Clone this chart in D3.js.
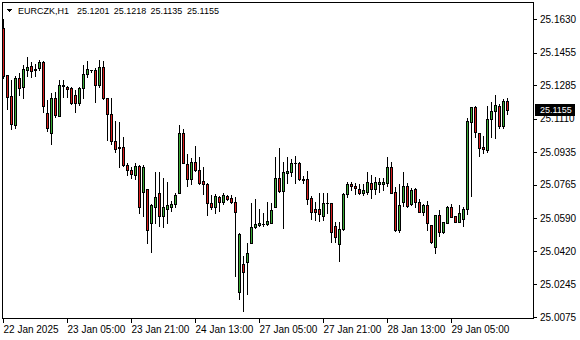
<!DOCTYPE html>
<html>
<head>
<meta charset="utf-8">
<script src="https://cdn.jsdelivr.net/npm/d3@7"></script>
<style>
  body { margin: 0; background: #fff; }
  svg { display: block; font-family: "Liberation Sans", Arial, sans-serif; font-size: 9px; }
</style>
</head>
<body>
<div class="canvas"></div>
<script>
var width = 580, height = 340;

// EURCZK H1, from 22 Jan 2025 13:00, one bar per hour (weekend skipped)
var open = [25.1583,25.1338,25.1228,25.1077,25.1322,25.1275,25.1364,25.1385,25.1369,25.1374,
  25.1406,25.1140,25.1035,25.1218,25.1124,25.1280,25.1275,25.1270,25.1233,25.1192,
  25.1270,25.1343,25.1364,25.1364,25.1286,25.1380,25.1218,25.1134,25.0993,25.0962,
  25.0962,25.0868,25.0842,25.0816,25.0863,25.0727,25.0743,25.0566,25.0649,25.0722,
  25.0602,25.0639,25.0649,25.0665,25.0722,25.1035,25.0873,25.0795,25.0884,25.0842,
  25.0785,25.0769,25.0670,25.0649,25.0701,25.0675,25.0706,25.0696,25.0675,25.0205,
  25.0352,25.0362,25.0461,25.0545,25.0555,25.0560,25.0560,25.0566,25.0649,25.0800,
  25.0732,25.0826,25.0832,25.0879,25.0879,25.0795,25.0795,25.0696,25.0639,25.0639,
  25.0602,25.0670,25.0670,25.0550,25.0456,25.0534,25.0717,25.0769,25.0759,25.0743,
  25.0722,25.0727,25.0774,25.0743,25.0769,25.0769,25.0774,25.0858,25.0727,25.0529,
  25.0675,25.0759,25.0665,25.0743,25.0675,25.0623,25.0659,25.0555,25.0440,25.0607,
  25.0519,25.0566,25.0649,25.0602,25.0571,25.0586,25.0639,25.1093,25.1171,25.1035,
  25.0962,25.0947,25.1108,25.1150,25.1176,25.1072,25.1201];
var high = [25.1630,25.1338,25.1312,25.1333,25.1348,25.1390,25.1432,25.1406,25.1395,25.1416,
  25.1411,25.1207,25.1244,25.1249,25.1312,25.1312,25.1280,25.1275,25.1259,25.1275,
  25.1390,25.1411,25.1364,25.1374,25.1416,25.1411,25.1218,25.1218,25.1098,25.1093,
  25.1014,25.0879,25.0858,25.0879,25.0868,25.0868,25.0743,25.0665,25.0832,25.0832,
  25.0800,25.0779,25.0680,25.0722,25.1077,25.1056,25.0926,25.0905,25.0967,25.0910,
  25.0858,25.0774,25.0712,25.0717,25.0706,25.0722,25.0712,25.0712,25.0701,25.0513,
  25.0393,25.0461,25.0670,25.0691,25.0639,25.0618,25.0675,25.0670,25.0910,25.0957,
  25.0884,25.0910,25.0900,25.0915,25.0884,25.0811,25.0837,25.0706,25.0675,25.0722,
  25.0722,25.0722,25.0670,25.0571,25.0571,25.0722,25.0779,25.0779,25.0774,25.0769,
  25.0769,25.0832,25.0816,25.0806,25.0800,25.0800,25.0910,25.0884,25.0753,25.0769,
  25.0832,25.0774,25.0748,25.0748,25.0691,25.0665,25.0680,25.0555,25.0607,25.0633,
  25.0571,25.0654,25.0665,25.0602,25.0659,25.0649,25.1113,25.1171,25.1176,25.1035,
  25.1019,25.1176,25.1197,25.1233,25.1186,25.1213,25.1218];
var low = [25.1322,25.1160,25.1056,25.1061,25.1233,25.1218,25.1333,25.1327,25.1333,25.1364,
  25.1145,25.1046,25.0978,25.1119,25.1124,25.1223,25.1223,25.1186,25.1145,25.1181,
  25.1218,25.1327,25.1353,25.1197,25.1275,25.1213,25.0999,25.0978,25.0936,25.0858,
  25.0863,25.0816,25.0800,25.0795,25.0618,25.0602,25.0461,25.0414,25.0566,25.0550,
  25.0545,25.0566,25.0628,25.0649,25.0722,25.0879,25.0759,25.0769,25.0837,25.0769,
  25.0717,25.0607,25.0639,25.0618,25.0628,25.0665,25.0686,25.0670,25.0289,25.0169,
  25.0106,25.0195,25.0461,25.0539,25.0550,25.0550,25.0555,25.0566,25.0649,25.0727,
  25.0539,25.0774,25.0811,25.0774,25.0790,25.0774,25.0665,25.0586,25.0581,25.0576,
  25.0581,25.0618,25.0466,25.0466,25.0367,25.0529,25.0701,25.0738,25.0717,25.0717,
  25.0712,25.0717,25.0696,25.0717,25.0727,25.0738,25.0759,25.0722,25.0524,25.0519,
  25.0654,25.0649,25.0659,25.0649,25.0623,25.0607,25.0529,25.0461,25.0409,25.0498,
  25.0513,25.0566,25.0597,25.0571,25.0571,25.0550,25.0612,25.0706,25.1014,25.0915,
  25.0931,25.0936,25.1014,25.1009,25.1061,25.1061,25.1135];
var close = [25.1333,25.1223,25.1082,25.1322,25.1270,25.1369,25.1380,25.1359,25.1364,25.1406,
  25.1176,25.1061,25.1218,25.1129,25.1286,25.1286,25.1265,25.1192,25.1192,25.1270,
  25.1343,25.1369,25.1364,25.1286,25.1380,25.1218,25.1134,25.0993,25.0952,25.0957,
  25.0868,25.0842,25.0821,25.0863,25.0649,25.0858,25.0529,25.0659,25.0701,25.0602,
  25.0649,25.0659,25.0665,25.0712,25.1035,25.0879,25.0795,25.0884,25.0842,25.0774,
  25.0769,25.0670,25.0649,25.0706,25.0675,25.0712,25.0691,25.0675,25.0623,25.0508,
  25.0310,25.0409,25.0545,25.0560,25.0566,25.0562,25.0576,25.0633,25.0800,25.0732,
  25.0832,25.0837,25.0879,25.0879,25.0795,25.0790,25.0691,25.0623,25.0623,25.0612,
  25.0670,25.0670,25.0519,25.0493,25.0534,25.0717,25.0769,25.0759,25.0748,25.0722,
  25.0738,25.0779,25.0743,25.0779,25.0779,25.0779,25.0858,25.0722,25.0529,25.0659,
  25.0759,25.0654,25.0738,25.0675,25.0623,25.0659,25.0566,25.0466,25.0607,25.0519,
  25.0571,25.0649,25.0597,25.0571,25.0618,25.0639,25.1098,25.1171,25.1040,25.0957,
  25.0952,25.1108,25.1150,25.1181,25.1072,25.1202,25.1155];

var priceTicks = [25.1630,25.1455,25.1285,25.1110,25.0935,25.0765,25.0590,25.0420,25.0245,25.0075];
var timeTickBars = [0, 16, 32, 48, 64, 80, 96, 112];
var timeTickLabels = ["22 Jan 2025","23 Jan 05:00","23 Jan 21:00","24 Jan 13:00",
  "27 Jan 05:00","27 Jan 21:00","28 Jan 13:00","29 Jan 05:00"];
var symbol = "EURCZK,H1";

var bull = "#3aaa35", bear = "#d81e1e";
var fmt = d3.format(".4f");

var svg = d3.select(".canvas").append("svg")
    .attr("width", width)
    .attr("height", height)
    .attr("shape-rendering", "crispEdges");

var x = d3.scaleLinear().domain([0, open.length - 1]).range([3, 3 + 4 * (open.length - 1)]);
var y = d3.scaleLinear().domain([25.0075, 25.1630]).range([317, 19]);

// chart frame
svg.append("rect")
    .attr("x", 2.5).attr("y", 2.5)
    .attr("width", 531).attr("height", 316)
    .attr("fill", "none")
    .attr("stroke", "#000");

var bars = d3.range(open.length).map(function(i) {
  return {i: i, o: open[i], h: high[i], l: low[i], c: close[i]};
});

var candle = svg.append("g").selectAll("g").data(bars).enter().append("g");

function bodyTop(d) { return Math.round(y(Math.max(d.o, d.c))); }
function bodyBot(d) { return Math.round(y(Math.min(d.o, d.c))); }

// wick
candle.append("rect")
    .attr("x", function(d) { return x(d.i); })
    .attr("y", function(d) { return Math.round(y(d.h)); })
    .attr("width", 1)
    .attr("height", function(d) { return Math.round(y(d.l)) - Math.round(y(d.h)) + 1; })
    .attr("fill", "#000");

// body outline
candle.append("rect")
    .attr("x", function(d) { return x(d.i) - 1; })
    .attr("y", bodyTop)
    .attr("width", 3)
    .attr("height", function(d) { return bodyBot(d) - bodyTop(d) + 1; })
    .attr("fill", "#000");

// body fill
candle.filter(function(d) { return bodyBot(d) - bodyTop(d) > 1; })
  .append("rect")
    .attr("x", function(d) { return x(d.i); })
    .attr("y", function(d) { return bodyTop(d) + 1; })
    .attr("width", 1)
    .attr("height", function(d) { return bodyBot(d) - bodyTop(d) - 1; })
    .attr("fill", function(d) { return d.c > d.o ? bull : bear; });

// price axis
var yAxis = svg.append("g")
    .attr("transform", "translate(533,0)")
    .call(d3.axisRight(y).tickValues(priceTicks).tickSize(4).tickPadding(3).tickFormat(fmt));
yAxis.select(".domain").remove();
yAxis.selectAll("text").attr("fill", "#000");

// time axis
var xAxis = svg.append("g")
    .attr("transform", "translate(0,318)")
    .call(d3.axisBottom(x).tickValues(timeTickBars).tickSize(5).tickPadding(3)
      .tickFormat(function(d, i) { return timeTickLabels[i]; }));
xAxis.select(".domain").remove();
xAxis.selectAll("text").attr("text-anchor", "start").attr("fill", "#000");

// current price marker
var last = close[close.length - 1];
svg.append("rect")
    .attr("x", 535).attr("y", Math.round(y(last)) - 6)
    .attr("width", 40).attr("height", 12)
    .attr("fill", "#000");
svg.append("text")
    .attr("x", 540).attr("y", y(last))
    .attr("dy", "0.32em")
    .attr("fill", "#fff")
    .text(fmt(last));

// header: symbol and last bar OHLC
svg.append("path")
    .attr("d", "M6,9 L12,9 L9,12 Z")
    .attr("fill", "#000")
    .attr("shape-rendering", null);
var header = svg.append("text").attr("y", 14);
header.append("tspan").attr("x", 18).text(symbol);
[open, high, low, close].forEach(function(a, k) {
  header.append("tspan").attr("x", 77 + 36.7 * k).text(fmt(a[a.length - 1]));
});
</script>
</body>
</html>
